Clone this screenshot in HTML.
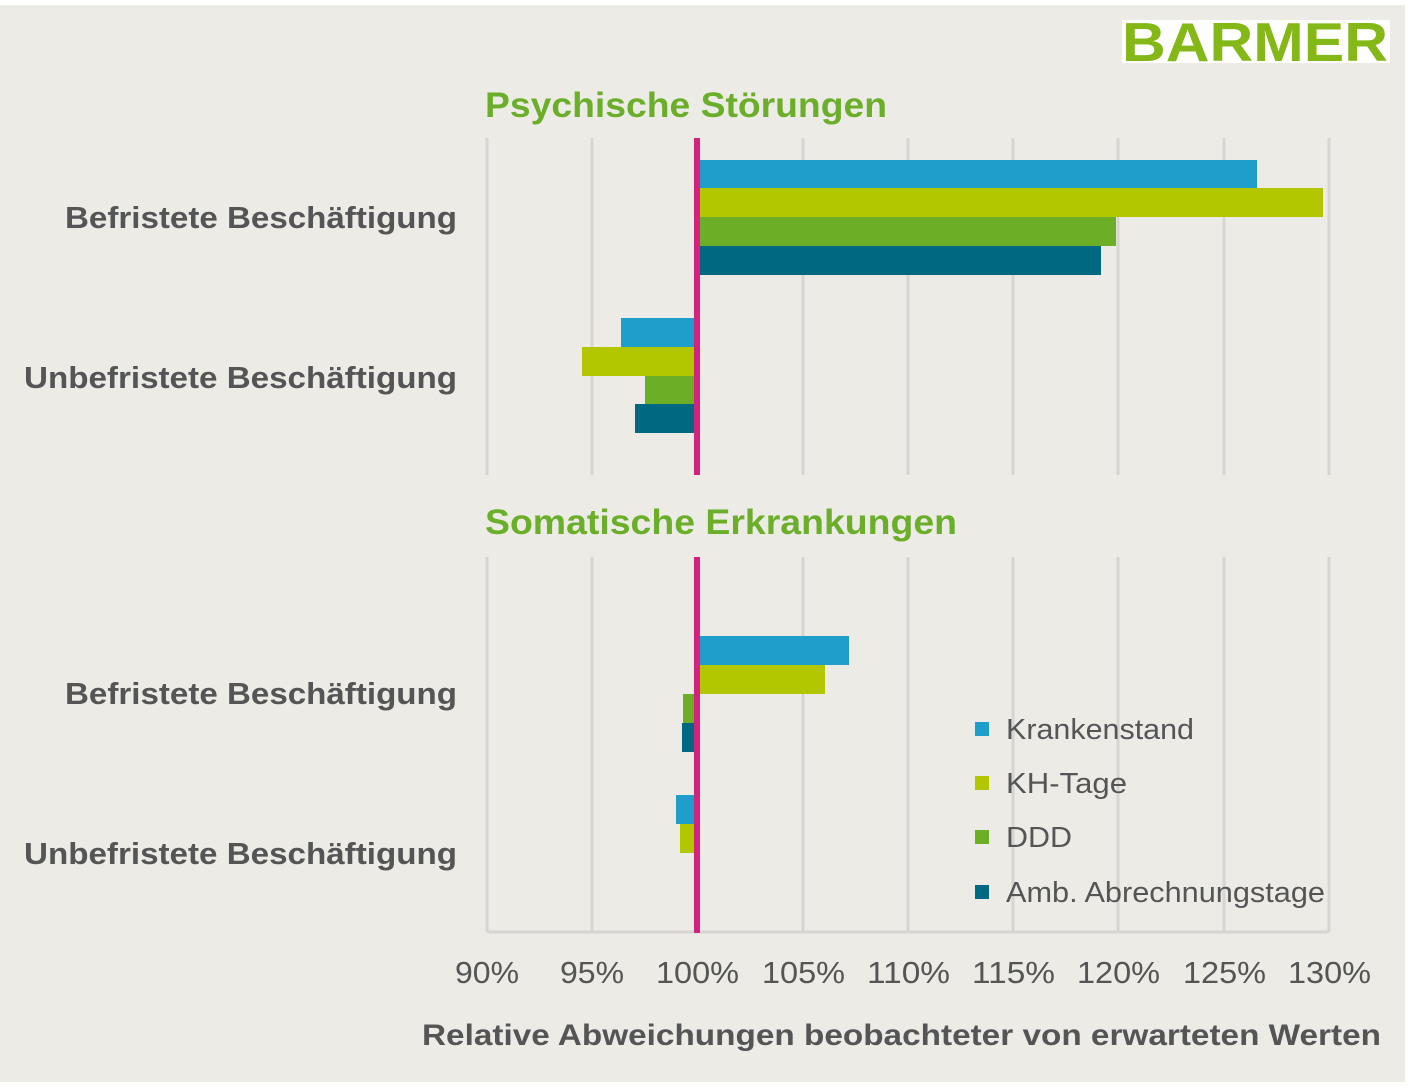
<!DOCTYPE html>
<html><head><meta charset="utf-8"><style>
body{margin:0;background:#fff;width:1408px;height:1087px;overflow:hidden;font-family:"Liberation Sans",Arial,sans-serif}
</style></head><body>
<svg width="1408" height="1087" xmlns="http://www.w3.org/2000/svg" style="position:absolute;left:0;top:0">
<rect x="0" y="5" width="1405" height="1077" fill="#ecebe6"/>
<rect x="1122" y="20" width="268" height="43" fill="#fff"/>
<text x="1388" y="61" text-anchor="end" font-family="Liberation Sans" font-weight="bold" font-size="55" fill="#84b817" textLength="266" lengthAdjust="spacingAndGlyphs">BARMER</text>
<g font-family="Liberation Sans" font-weight="bold" font-size="35" fill="#6aae2a" lengthAdjust="spacingAndGlyphs">
<text x="485" y="117" textLength="402" lengthAdjust="spacingAndGlyphs">Psychische Störungen</text>
<text x="485" y="534" textLength="472" lengthAdjust="spacingAndGlyphs">Somatische Erkrankungen</text>
</g>
<g stroke="#d6d5d1" stroke-width="3">
<line x1="487" y1="138" x2="487" y2="475"/><line x1="592" y1="138" x2="592" y2="475"/><line x1="803" y1="138" x2="803" y2="475"/><line x1="908" y1="138" x2="908" y2="475"/><line x1="1013" y1="138" x2="1013" y2="475"/><line x1="1118" y1="138" x2="1118" y2="475"/><line x1="1224" y1="138" x2="1224" y2="475"/><line x1="1329" y1="138" x2="1329" y2="475"/>
<line x1="487" y1="557" x2="487" y2="932"/><line x1="592" y1="557" x2="592" y2="932"/><line x1="803" y1="557" x2="803" y2="932"/><line x1="908" y1="557" x2="908" y2="932"/><line x1="1013" y1="557" x2="1013" y2="932"/><line x1="1118" y1="557" x2="1118" y2="932"/><line x1="1224" y1="557" x2="1224" y2="932"/><line x1="1329" y1="557" x2="1329" y2="932"/>
<line x1="487" y1="932" x2="1329" y2="932"/>
</g>
<rect x="697" y="160" width="560" height="29" fill="#1f9dcb"/>
<rect x="697" y="188" width="626" height="29" fill="#b3c700"/>
<rect x="697" y="217" width="419" height="29" fill="#6caf26"/>
<rect x="697" y="246" width="404" height="29" fill="#016882"/>
<rect x="621" y="318" width="76" height="29" fill="#1f9dcb"/>
<rect x="582" y="347" width="115" height="29" fill="#b3c700"/>
<rect x="645" y="376" width="52" height="28" fill="#6caf26"/>
<rect x="635" y="404" width="62" height="29" fill="#016882"/>
<rect x="697" y="636" width="152" height="29" fill="#1f9dcb"/>
<rect x="697" y="665" width="128" height="29" fill="#b3c700"/>
<rect x="683" y="694" width="14" height="29" fill="#6caf26"/>
<rect x="682" y="723" width="15" height="29" fill="#016882"/>
<rect x="676" y="795" width="21" height="29" fill="#1f9dcb"/>
<rect x="680" y="824" width="17" height="29" fill="#b3c700"/>
<rect x="694" y="138" width="6" height="337" fill="#d6227f"/>
<rect x="694" y="557" width="6" height="376" fill="#d6227f"/>
<g font-family="Liberation Sans" font-weight="bold" font-size="31" fill="#555">
<text x="65" y="228" textLength="392" lengthAdjust="spacingAndGlyphs">Befristete Beschäftigung</text>
<text x="24" y="388" textLength="433" lengthAdjust="spacingAndGlyphs">Unbefristete Beschäftigung</text>
<text x="65" y="704" textLength="392" lengthAdjust="spacingAndGlyphs">Befristete Beschäftigung</text>
<text x="24" y="864" textLength="433" lengthAdjust="spacingAndGlyphs">Unbefristete Beschäftigung</text>
</g>
<g font-family="Liberation Sans" font-size="31" fill="#555">
<text x="455" y="983" textLength="64" lengthAdjust="spacingAndGlyphs">90%</text>
<text x="560" y="983" textLength="64" lengthAdjust="spacingAndGlyphs">95%</text>
<text x="656" y="983" textLength="83" lengthAdjust="spacingAndGlyphs">100%</text>
<text x="762" y="983" textLength="83" lengthAdjust="spacingAndGlyphs">105%</text>
<text x="867" y="983" textLength="83" lengthAdjust="spacingAndGlyphs">110%</text>
<text x="972" y="983" textLength="83" lengthAdjust="spacingAndGlyphs">115%</text>
<text x="1077" y="983" textLength="83" lengthAdjust="spacingAndGlyphs">120%</text>
<text x="1183" y="983" textLength="83" lengthAdjust="spacingAndGlyphs">125%</text>
<text x="1288" y="983" textLength="83" lengthAdjust="spacingAndGlyphs">130%</text>
</g>
<text x="422" y="1045" font-family="Liberation Sans" font-weight="bold" font-size="30" fill="#555" textLength="959" lengthAdjust="spacingAndGlyphs">Relative Abweichungen beobachteter von erwarteten Werten</text>
<rect x="975" y="722" width="14" height="14" fill="#1f9dcb"/>
<rect x="975" y="776" width="14" height="14" fill="#b3c700"/>
<rect x="975" y="830" width="14" height="14" fill="#6caf26"/>
<rect x="975" y="885" width="14" height="14" fill="#016882"/>
<g font-family="Liberation Sans" font-size="29" fill="#555">
<text x="1006" y="739" textLength="188" lengthAdjust="spacingAndGlyphs">Krankenstand</text>
<text x="1006" y="793" textLength="121" lengthAdjust="spacingAndGlyphs">KH-Tage</text>
<text x="1006" y="847" textLength="66" lengthAdjust="spacingAndGlyphs">DDD</text>
<text x="1006" y="902" textLength="319" lengthAdjust="spacingAndGlyphs">Amb. Abrechnungstage</text>
</g>
</svg>
</body></html>
